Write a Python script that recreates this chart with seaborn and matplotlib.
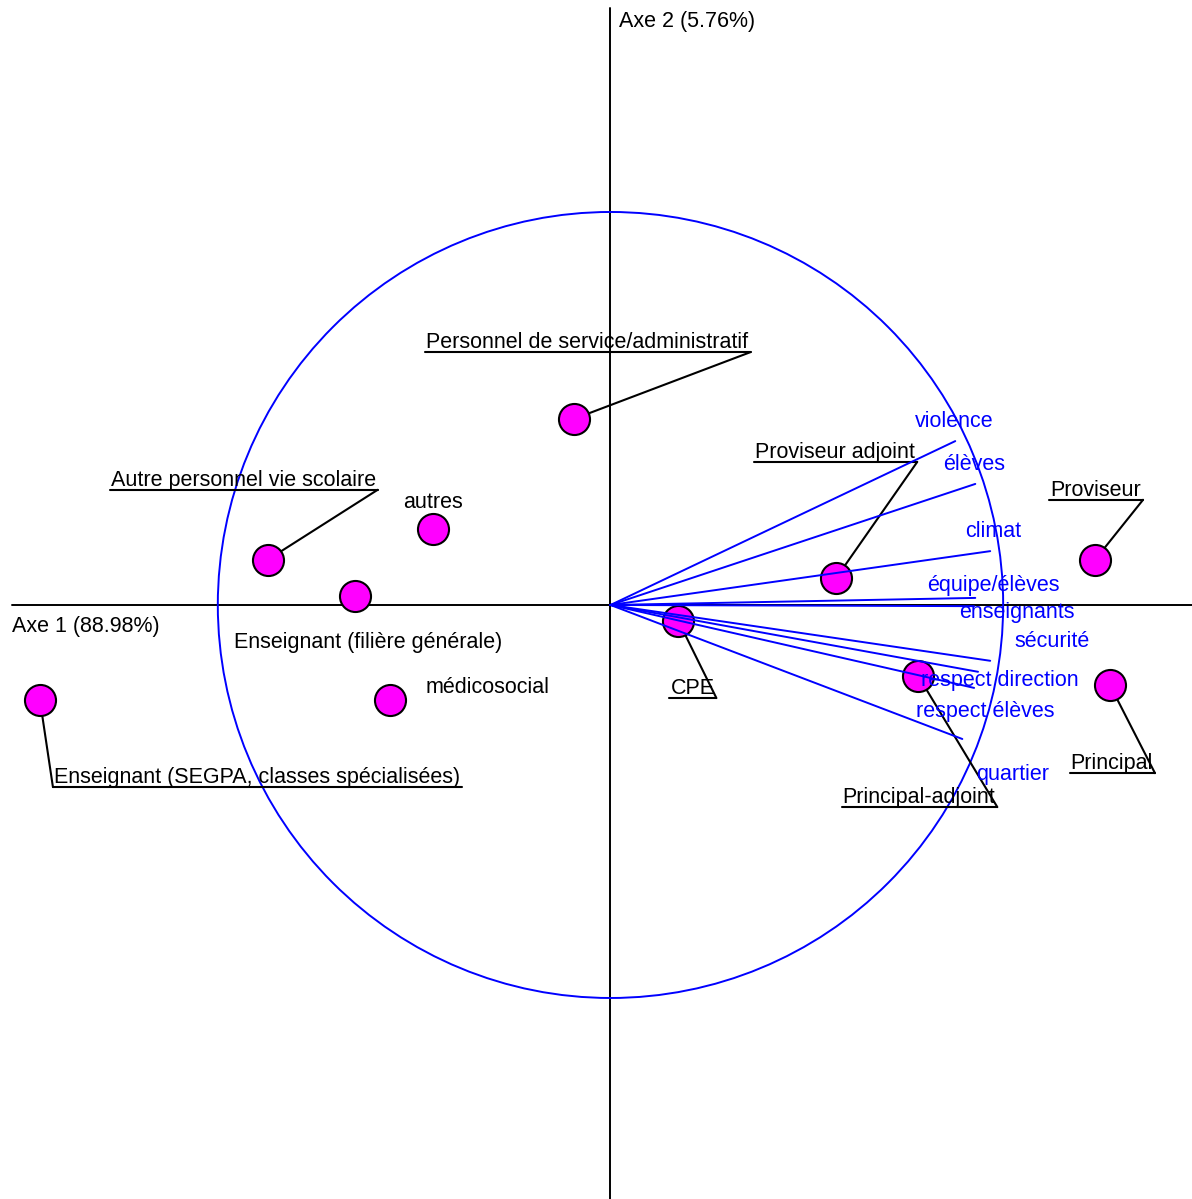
import numpy as np
import pandas as pd
import matplotlib
matplotlib.use('Agg')
import matplotlib.pyplot as plt
import seaborn as sns
from matplotlib.patches import Circle

sns.set_style('white')
plt.rcParams['font.family'] = ['Liberation Sans', 'DejaVu Sans']
plt.rcParams['text.color'] = 'black'

# row points (categories of respondents), factor coordinates
row_labels = ['Personnel de service/administratif', 'autres', 'Autre personnel vie scolaire',
              'Enseignant (filière générale)', 'médicosocial',
              'Enseignant (SEGPA, classes spécialisées)', 'CPE', 'Proviseur adjoint',
              'Proviseur', 'Principal-adjoint', 'Principal']
row_x = [-0.094, -0.453, -0.873, -0.651, -0.562, -1.453, 0.173, 0.575, 1.234, 0.784, 1.272]
row_y = [0.473, 0.193, 0.115, 0.023, -0.242, -0.242, -0.041, 0.069, 0.115, -0.181, -0.204]

# column vectors (themes)
col_labels = ['violence', 'élèves', 'climat', 'équipe/élèves', 'enseignants',
              'sécurité', 'respect direction', 'respect élèves', 'quartier']
col_x = [0.878, 0.929, 0.967, 0.929, 0.926, 0.967, 0.936, 0.926, 0.896]
col_y = [0.417, 0.308, 0.137, 0.018, -0.003, -0.142, -0.170, -0.211, -0.341]

axis1_label = 'Axe 1 (88.98%)'
axis2_label = 'Axe 2 (5.76%)'

# label layout in pixels relative to the point: (dx, dy, underlined, side)
row_layout = {
    'Personnel de service/administratif': (177, 67, True, 'right'),
    'autres': (0, 27, False, 'center'),
    'Autre personnel vie scolaire': (110, 70, True, 'right'),
    'Enseignant (filière générale)': (-121, -47, False, 'left'),
    'médicosocial': (36, 13, False, 'left'),
    'Enseignant (SEGPA, classes spécialisées)': (13, -87, True, 'left'),
    'CPE': (38, -77, True, 'right'),
    'Proviseur adjoint': (81, 116, True, 'right'),
    'Proviseur': (48, 60, True, 'right'),
    'Principal-adjoint': (79, -131, True, 'right'),
    'Principal': (45, -88, True, 'right'),
}
col_layout = [(-40, 20), (-32, 19), (-25, 20), (-48, 12), (-15, -6),
              (24, 19), (-57, -9), (-58, -24), (14, -36)]

rows = pd.DataFrame({'label': row_labels, 'x': row_x, 'y': row_y})
cols = pd.DataFrame({'label': col_labels, 'x': col_x, 'y': col_y})

fig = plt.figure(figsize=(11.92, 11.99), dpi=100)
ax = fig.add_axes([0, 0, 1, 1])
ax.set_xlim(-1.5547, 1.4809)
ax.set_ylim(-1.5115, 1.5394)
ax.axis('off')

fs = 15.5
blue = '#0000ff'


def off(x, y, dx, dy):
    X, Y = ax.transData.transform((x, y))
    return ax.transData.inverted().transform((X + dx, Y + dy))


# axes through the origin
x0, _ = off(ax.get_xlim()[0], 0, 12, 0)
_, y0 = off(0, ax.get_ylim()[1], 0, -8)
ax.plot([x0, ax.get_xlim()[1]], [0, 0], color='black', lw=1.4, zorder=1)
ax.plot([0, 0], [ax.get_ylim()[0], y0], color='black', lw=1.4, zorder=1)
ax.text(*off(x0, 0, 0, -22), axis1_label, fontsize=fs, ha='left', va='center')
ax.text(*off(0, y0, 9, -14), axis2_label, fontsize=fs, ha='left', va='center')

# correlation circle
ax.add_patch(Circle((0, 0), 1, fill=False, edgecolor=blue, lw=1.4, zorder=1))

renderer = fig.canvas.get_renderer()

# leaders + labels for rows
for _, r in rows.iterrows():
    dx, dy, under, side = row_layout[r['label']]
    ax_, ay_ = off(r['x'], r['y'], dx, dy)
    if not under:
        ax.text(ax_, ay_, r['label'], fontsize=fs, ha=side, va='center', zorder=5)
        continue
    tx, ty = off(r['x'], r['y'], dx + (-2 if side == 'right' else 1), dy + 4)
    t = ax.text(tx, ty, r['label'], fontsize=fs, ha=side, va='baseline', zorder=5)
    w = t.get_window_extent(renderer=renderer).width + 3
    other = off(r['x'], r['y'], dx - w if side == 'right' else dx + w, dy)
    ax.plot([ax_, other[0]], [ay_, other[1]], color='black', lw=1.5, zorder=2)
    ax.plot([r['x'], ax_], [r['y'], ay_], color='black', lw=1.5, zorder=2)

sns.scatterplot(data=rows, x='x', y='y', ax=ax, s=500, color='#ff00ff',
                edgecolor='black', linewidth=1.5, zorder=3, legend=False)

# column vectors
for i, c in cols.iterrows():
    ax.plot([0, c['x']], [0, c['y']], color=blue, lw=1.4, zorder=4)
    dx, dy = col_layout[i]
    ax.text(*off(c['x'], c['y'], dx, dy), c['label'], fontsize=fs, color=blue,
            ha='left', va='center', zorder=5)

ax.set_xlabel('')
ax.set_ylabel('')
fig.savefig('out.png', dpi=100)
